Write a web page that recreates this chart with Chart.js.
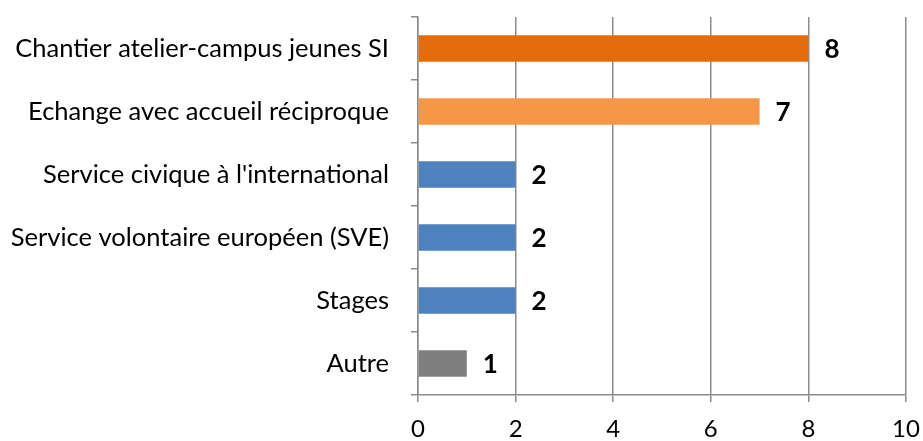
<!DOCTYPE html>
<html>
<head>
<meta charset="utf-8">
<script src="https://cdn.jsdelivr.net/npm/chart.js@4/dist/chart.umd.min.js"></script>
<style>
  html, body { margin: 0; padding: 0; background: #fff; }
  #wrap { width: 923px; height: 441px; }
</style>
</head>
<body>
<div id="wrap"><canvas id="barChart"></canvas></div>
<script>
// data
const categories = [
  'Chantier atelier-campus jeunes SI',
  'Echange avec accueil réciproque',
  "Service civique à l'international",
  'Service volontaire européen (SVE)',
  'Stages',
  'Autre'
];
const values = [8, 7, 2, 2, 2, 1];
const barColors = ['#E46C0A', '#F79646', '#4F81BD', '#4F81BD', '#4F81BD', '#7F7F7F'];
const xTicks = [0, 2, 4, 6, 8, 10];

const gridGrey = '#8c8c8c';
const fontFamily = 'Lato, "Open Sans", sans-serif';

// value labels drawn at the end of each bar
const valueLabels = {
  id: 'valueLabels',
  afterDatasetsDraw(chart) {
    const ctx = chart.ctx;
    const meta = chart.getDatasetMeta(0);
    ctx.save();
    ctx.font = 'bold 26px ' + fontFamily;
    ctx.fillStyle = '#000';
    ctx.textBaseline = 'middle';
    ctx.textAlign = 'left';
    meta.data.forEach((bar, i) => {
      ctx.fillText(String(values[i]), bar.x + 16, bar.y + 1);
    });
    ctx.restore();
  }
};

new Chart(document.getElementById('barChart'), {
  type: 'bar',
  data: {
    labels: categories,
    datasets: [{
      data: values,
      backgroundColor: barColors,
      barPercentage: 0.42,
      categoryPercentage: 1
    }]
  },
  options: {
    indexAxis: 'y',
    responsive: true,
    maintainAspectRatio: false,
    animation: false,
    layout: { padding: { top: 17, right: 17, left: 0, bottom: 0 } },
    plugins: {
      legend: { display: false },
      tooltip: { enabled: false }
    },
    scales: {
      x: {
        min: 0,
        max: 10,
        afterBuildTicks(scale) {
          scale.ticks = xTicks.map(v => ({ value: v }));
        },
        afterFit(scale) {
          scale.height = 46;
          scale.paddingLeft = 0;
          scale.paddingRight = 0;
        },
        grid: {
          color: gridGrey,
          lineWidth: 1.5,
          tickLength: 7,
          drawTicks: true
        },
        border: { color: gridGrey, width: 1.5 },
        ticks: {
          color: '#000',
          font: { family: fontFamily, size: 24 },
          padding: 13,
          maxRotation: 0
        }
      },
      y: {
        afterFit(scale) {
          scale.width = 418;
          scale.paddingTop = 0;
          scale.paddingBottom = 0;
        },
        grid: {
          offset: true,
          drawOnChartArea: false,
          drawTicks: true,
          tickLength: 7,
          color: gridGrey,
          lineWidth: 1.5
        },
        border: { color: gridGrey, width: 1.5 },
        ticks: {
          color: '#000',
          font: { family: fontFamily, size: 25.5 },
          padding: 22
        }
      }
    }
  },
  plugins: [valueLabels]
});
</script>
</body>
</html>
